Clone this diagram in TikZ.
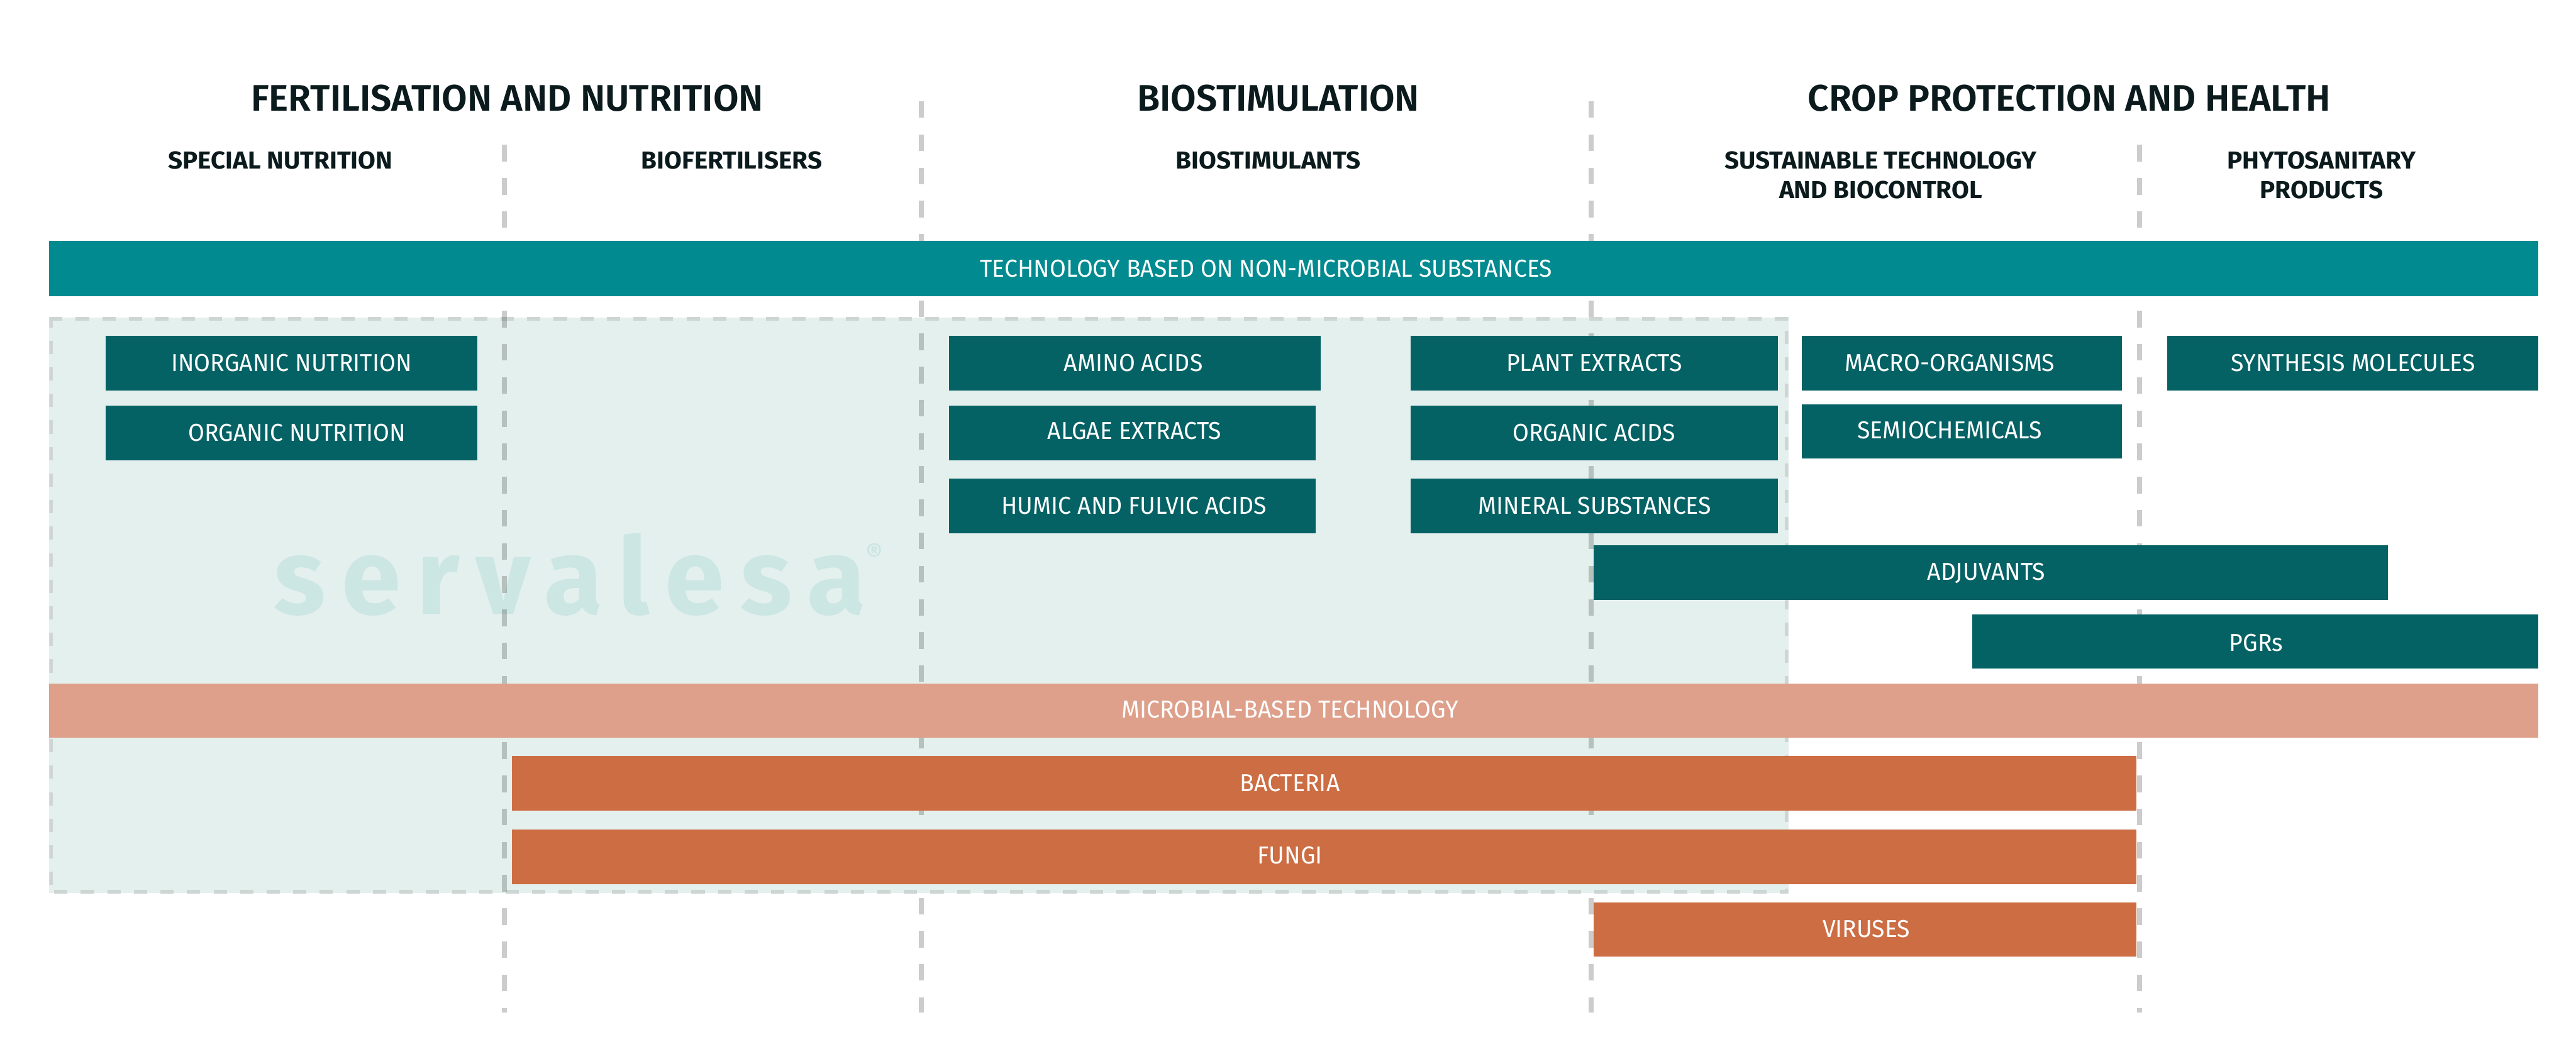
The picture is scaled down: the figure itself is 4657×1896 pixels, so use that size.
\documentclass[tikz,border=0pt]{standalone}
\usepackage{fontspec}
\setmainfont{Fira Sans}
\newfontfamily\headfont[UprightFont=* SemiBold]{Fira Sans}
\newfontfamily\subfont[UprightFont=* Bold,FakeStretch=1.035]{Fira Sans}
\newfontfamily\labfont[FakeStretch=0.96]{Fira Sans}
\newfontfamily\markfont[UprightFont=* Bold,LetterSpace=15]{Fira Sans}
\newfontfamily\regfont[UprightFont=* Bold]{Fira Sans}
\definecolor{tealbar}{HTML}{018A8F}
\definecolor{tealbox}{HTML}{046265}
\definecolor{salmon}{HTML}{DEA08A}
\definecolor{rust}{HTML}{CD6D43}
\definecolor{mist}{HTML}{E4F0ED}
\definecolor{ink}{HTML}{0B1A1C}
\definecolor{wm}{HTML}{CBE6E3}
\definecolor{zone}{HTML}{CDD6D2}
\tikzset{
  x=0.01cm,y=-0.01cm,
  bar/.style={draw=none,inner sep=0pt,outer sep=0pt},
  lab/.style={text=white,font=\labfont\fontsize{12.6pt}{15pt}\selectfont,inner sep=0pt},
  head/.style={text=ink,font=\headfont\fontsize{19pt}{22pt}\selectfont,inner sep=0pt,align=center},
  subhead/.style={text=ink,font=\subfont\fontsize{12.6pt}{15.2pt}\selectfont,inner sep=0pt,align=center},
  divider/.style={draw=black,opacity=.2,line width=9*0.01cm,dash pattern=on 30*0.01cm off 30*0.01cm},
}
% \bx{name}{colour}{x1}{y1}{x2}{y2}{label cx}{label dy}{label}
\newcommand{\bx}[9]{%
  \fill[#2,bar] (#3,#4) rectangle (#5,#6);
  \node[lab] (#1) at (#7,{(#4+#6)/2+#8}) {#9};}
\begin{document}
\begin{tikzpicture}
\useasboundingbox (0,0) rectangle (4657,1896);
\fill[white] (0,0) rectangle (4657,1896);
% tinted zone
\fill[mist] (89,574) rectangle (3233,1615);
\begin{scope}
\clip (89,574) rectangle (3233,1615);
\draw[draw=zone,line width=12*0.01cm,dash pattern=on 24*0.01cm off 24*0.01cm] (89,574) -- (3233,574) -- (3233,1615) -- (89,1615) -- cycle;
\end{scope}
% dividers
\coordinate (d1t) at (912,262);  \coordinate (d1b) at (912,1831);
\coordinate (d2t) at (1666,183); \coordinate (d2b) at (1666,1831);
\coordinate (d3t) at (2876,183); \coordinate (d3b) at (2876,1831);
\coordinate (d4t) at (3868,262); \coordinate (d4b) at (3868,1831);
% watermark
\node[text=wm,font=\markfont\fontsize{55pt}{55pt}\selectfont,inner sep=0pt,anchor=base] (mark) at (1030,1110) {servalesa};
\node[text=wm,font=\regfont\fontsize{13pt}{13pt}\selectfont,inner sep=0pt] (markr) at (1581,1000) {®};
\draw[divider] (d1t) -- (d1b);
\draw[divider] (d2t) -- (d2b);
\draw[divider] (d3t) -- (d3b);
\draw[divider] (d4t) -- (d4b);
% headings
\node[head] (h1) at (917,177) {FERTILISATION AND NUTRITION};
\node[head] (h2) at (2311,177) {BIOSTIMULATION};
\node[head] (h3) at (3741,177) {CROP PROTECTION AND HEALTH};
\node[subhead] (s1) at (507,290) {SPECIAL NUTRITION};
\node[subhead] (s2) at (1323,290) {BIOFERTILISERS};
\node[subhead] (s3) at (2293,290) {BIOSTIMULANTS};
\node[subhead] (s4) at (3400,317) {SUSTAINABLE TECHNOLOGY\\AND BIOCONTROL};
\node[subhead] (s5) at (4197,317) {PHYTOSANITARY\\PRODUCTS};
% bars
\bx{tech}{tealbar}{89}{436}{4589}{535}{2289}{0}{TECHNOLOGY BASED ON NON-MICROBIAL SUBSTANCES}
\bx{inorg}{tealbox}{191}{607}{863}{706}{527}{0}{INORGANIC NUTRITION}
\bx{orgn}{tealbox}{191}{733}{863}{832}{537}{0}{ORGANIC NUTRITION}
\bx{amino}{tealbox}{1716}{607}{2388}{706}{2049}{0}{AMINO ACIDS}
\bx{algae}{tealbox}{1716}{733}{2379}{832}{2051}{-4}{ALGAE EXTRACTS}
\bx{humic}{tealbox}{1716}{865}{2379}{964}{2050}{0}{HUMIC AND FULVIC ACIDS}
\bx{plant}{tealbox}{2550}{607}{3214}{706}{2882}{0}{PLANT EXTRACTS}
\bx{orga}{tealbox}{2550}{733}{3214}{832}{2882}{0}{ORGANIC ACIDS}
\bx{miner}{tealbox}{2550}{865}{3214}{964}{2883}{0}{MINERAL SUBSTANCES}
\bx{macro}{tealbox}{3257}{607}{3836}{706}{3525}{0}{MACRO-ORGANISMS}
\bx{semio}{tealbox}{3257}{731}{3836}{829}{3525}{-2}{SEMIOCHEMICALS}
\bx{synth}{tealbox}{3918}{607}{4589}{706}{4254}{0}{SYNTHESIS MOLECULES}
\bx{adjuv}{tealbox}{2881}{986}{4317}{1085}{3591}{1}{ADJUVANTS}
\bx{pgrs}{tealbox}{3565}{1111}{4589}{1209}{4079}{2}{PGRs}
\bx{micro}{salmon}{89}{1236}{4589}{1334}{2332}{-3}{MICROBIAL-BASED TECHNOLOGY}
\bx{bact}{rust}{926}{1367}{3862}{1466}{2332}{-1}{BACTERIA}
\bx{fungi}{rust}{926}{1500}{3862}{1598}{2332}{-3}{FUNGI}
\bx{virus}{rust}{2881}{1631}{3862}{1729}{3374}{-1}{VIRUSES}
\end{tikzpicture}
\end{document}
